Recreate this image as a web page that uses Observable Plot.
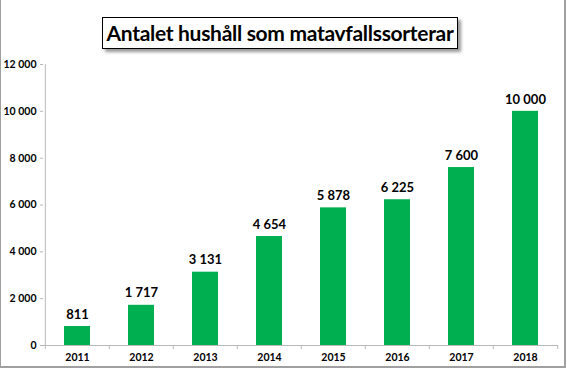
<!DOCTYPE html>
<html>
<head>
<meta charset="utf-8">
<script src="https://cdn.jsdelivr.net/npm/d3@7"></script>
<script src="https://cdn.jsdelivr.net/npm/@observablehq/plot@0.6"></script>
<style>
  html, body { margin: 0; padding: 0; background: #fff; }
  #wrap { position: relative; width: 567px; height: 371px; overflow: hidden; font-family: Lato, "Open Sans", sans-serif; }
  #frame { position: absolute; left: 0; top: -2px; width: 563px; height: 368px; border-left: 1px solid #a0a0a0; border-right: 2px solid #a0a0a0; border-bottom: 2px solid #a0a0a0; pointer-events: none; }
  #title { position: absolute; left: 102px; top: 17px; width: 354px; height: 30px; border: 1px solid #000; background: #fff;
    box-shadow: 3px 3px 3px #999; font-weight: bold; font-size: 21px; line-height: 30px; text-align: center; color: #000; white-space: nowrap; letter-spacing: -0.3px; }
  #chart { position: absolute; left: 0; top: 0; }
</style>
</head>
<body>
<div id="wrap">
  <div id="chart"></div>
  <div id="title">Antalet hushåll som matavfallssorterar</div>
  <div id="frame"></div>
</div>
<script>
const years = ["2011", "2012", "2013", "2014", "2015", "2016", "2017", "2018"];
const households = [811, 1717, 3131, 4654, 5878, 6225, 7600, 10000];
const yTicks = [0, 2000, 4000, 6000, 8000, 10000, 12000];

const fmt = v => d3.format(",")(v).replace(/,/g, "\u00a0");
const data = years.map((y, i) => ({year: y, value: households[i]}));
const step = (567 - 43 - 9) / years.length;

const chart = Plot.plot({
  width: 567,
  height: 371,
  marginLeft: 43,
  marginRight: 9,
  marginTop: 64,
  marginBottom: 26,
  style: {fontFamily: "Lato, 'Open Sans', sans-serif", background: "transparent"},
  x: {domain: years, paddingInner: 0.6, paddingOuter: 0.3, label: null},
  y: {domain: [0, 12000], ticks: yTicks, label: null},
  marks: [
    Plot.ruleX([years[0]], {x: d => d, dx: -step / 2, y1: 0, y2: 12000, stroke: "#b8b8b8"}),
    Plot.axisY({ticks: yTicks, tickFormat: fmt, tickSize: 3, tickPadding: 4, stroke: "#b8b8b8", fontWeight: "bold", fontSize: 10.5, color: "#000", label: null}),
    Plot.axisX({tickSize: 0, tickPadding: 8, fontWeight: "bold", fontSize: 10.5, label: null}),
    Plot.barY(data, {x: "year", y: "value", fill: "#00b050"}),
    Plot.ruleY([0], {stroke: "#b8b8b8"}),
    Plot.ruleX(years, {x: d => d, dx: -step / 2, y1: 0, y2: -170, stroke: "#b8b8b8"}),
    Plot.ruleX([years[years.length - 1]], {x: d => d, dx: step / 2, y1: 0, y2: -170, stroke: "#b8b8b8"}),
    Plot.text(data, {x: "year", y: "value", text: d => fmt(d.value), dy: -12, fontWeight: "bold", fontSize: 13, fill: "#000"})
  ]
});
document.getElementById("chart").appendChild(chart);
</script>
</body>
</html>
